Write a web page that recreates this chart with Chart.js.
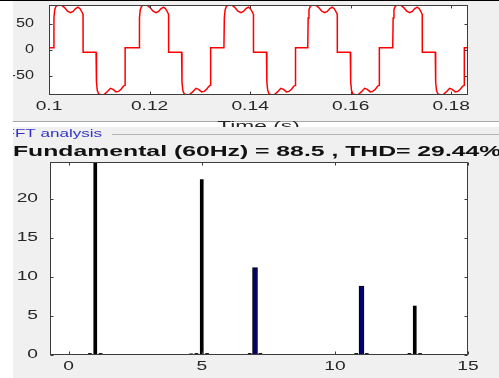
<!DOCTYPE html>
<html>
<head>
<meta charset="utf-8">
<script src="https://cdn.jsdelivr.net/npm/chart.js@4.4.1/dist/chart.umd.min.js"></script>
<style>
    html, body { margin: 0; padding: 0; }
    body { width: 499px; height: 378px; position: relative; overflow: hidden; background: #f0f0f0; }
    canvas { position: absolute; left: 0; top: 0; }
    #left-strip { position: absolute; left: 0; top: 0; width: 13px; height: 378px; background: #fff; z-index: 5; }
    #top-line { position: absolute; left: 0; top: 0; width: 499px; height: 1px; background: #000; z-index: 6; }
    #sep { position: absolute; left: 13px; top: 121px; width: 486px; height: 1px; background: #a8a8a8; }
    #band { position: absolute; left: 13px; top: 122px; width: 486px; height: 5px; background: #fff; }
    #panel-line { position: absolute; left: 112px; top: 134px; width: 387px; height: 1px; background: #b4b4b4; }
</style>
</head>
<body>
<div id="sep"></div>
<div id="band"></div>
<div id="panel-line"></div>
<canvas id="waveChart" width="499" height="378"></canvas>
<canvas id="fftChart" width="499" height="378"></canvas>
<div id="left-strip"></div>
<div id="top-line"></div>
<script>
// ---- waveform (top) ----
const timeRange = [0.1, 0.18333];
const voltRange = [-87, 87];
const timeTicks = [0.1, 0.12, 0.14, 0.16, 0.18];
const timeTickLabels = ['0.1', '0.12', '0.14', '0.16', '0.18'];
const voltTicks = [-50, 0, 50];
const voltTickLabels = ['-50', '0', '50'];

// start of each positive half and each negative half (s)
const posStarts = [0.10090, 0.11791, 0.13479, 0.15146, 0.16836];
const negStarts = [0.10936, 0.12637, 0.14325, 0.15992, 0.17682];
// shape of a positive half: offset (ms) and value
const posShapeMs = [0, 0.08, 0.24, 0.52, 1.0, 1.59, 2.19, 2.79, 3.38, 3.88, 4.38, 4.88, 5.27, 5.67, 5.87];
const posShapeV = [4.4, 62, 78, 85, 87.5, 86.5, 82, 75, 72, 74.5, 80, 83, 80, 73, 69];
// shape of a negative half
const negShapeMs = [0, 0.08, 0.24, 0.52, 1.0, 1.59, 2.19, 2.85, 3.38, 3.98, 4.48, 4.98, 5.43, 5.77];
const negShapeV = [-4.4, -62, -78, -85, -86.5, -86, -81, -74, -76, -81, -80, -76, -70, -68];
// flat steps between halves
const stepAfterPos = -4.4;
const stepAfterNeg = 4.4;

// ---- FFT bars (bottom) ----
const fftTitle = 'Fundamental (60Hz) = 88.5 , THD= 29.44%';
const orderRange = [-0.7, 15];
const magRange = [0, 24.75];
const orderTicks = [0, 5, 10, 15];
const magTicks = [0, 5, 10, 15, 20];
const blackOrders = [1, 5, 13];
const blackMags = [100, 22.5, 6.28];
const blueOrders = [7, 11];
const blueMags = [11.2, 8.85];
const leakOrders = [0.8, 1.2, 4.6, 4.8, 5.2, 6.8, 7.2, 10.8, 11.2, 12.8, 13.2];
const leakMags = [0.2, 0.2, 0.15, 0.2, 0.2, 0.2, 0.2, 0.2, 0.2, 0.2, 0.2];

// build the trace points
const wavePoints = [{ x: timeRange[0], y: stepAfterNeg }];
posStarts.forEach((p, k) => {
    posShapeMs.forEach((ms, i) => wavePoints.push({ x: p + ms / 1000, y: posShapeV[i] }));
    wavePoints.push({ x: p + (posShapeMs[posShapeMs.length - 1] + 0.01) / 1000, y: stepAfterPos });
    const n = negStarts[k];
    negShapeMs.forEach((ms, i) => wavePoints.push({ x: n + ms / 1000, y: negShapeV[i] }));
    wavePoints.push({ x: n + (negShapeMs[negShapeMs.length - 1] + 0.01) / 1000, y: stepAfterNeg });
});
wavePoints.push({ x: timeRange[1], y: stepAfterNeg });

const FONT = '"Liberation Sans", Arial, sans-serif';
const TEXT_COLOR = '#262626';

function drawText(ctx, text, x, y, opt) {
    ctx.save();
    ctx.font = opt.font;
    ctx.fillStyle = opt.color || TEXT_COLOR;
    ctx.textBaseline = opt.baseline || 'middle';
    ctx.textAlign = 'left';
    const sx = opt.sx || 1;
    const w = ctx.measureText(text).width * sx;
    let left = x;
    if (opt.align === 'center') left = x - w / 2;
    else if (opt.align === 'right') left = x - w;
    ctx.translate(left, y);
    ctx.scale(sx, 1);
    ctx.fillText(text, 0, 0);
    ctx.restore();
}

// white axes, box with inside ticks, stretched labels
const framePlugin = {
    id: 'frame',
    beforeDraw(chart) {
        const { ctx, chartArea: a } = chart;
        ctx.save();
        ctx.fillStyle = '#fff';
        ctx.fillRect(a.left, a.top, a.right - a.left, a.bottom - a.top);
        ctx.restore();
    },
    afterDraw(chart, args, opts) {
        const { ctx, chartArea: a, scales } = chart;
        const L = Math.round(a.left) + 0.5, R = Math.round(a.right) - 0.5;
        const T = Math.round(a.top) + 0.5, B = Math.round(a.bottom) - 0.5;
        ctx.save();
        ctx.strokeStyle = '#3c3c3c';
        ctx.lineWidth = 1;
        ctx.strokeRect(L, T, R - L, B - T);
        ctx.beginPath();
        scales.x.ticks.forEach(t => {
            const px = Math.round(scales.x.getPixelForValue(t.value)) + 0.5;
            ctx.moveTo(px, T); ctx.lineTo(px, T + 3);
            ctx.moveTo(px, B); ctx.lineTo(px, B - 3);
        });
        scales.y.ticks.forEach(t => {
            const py = Math.round(scales.y.getPixelForValue(t.value)) + 0.5;
            ctx.moveTo(L, py); ctx.lineTo(L + 3, py);
            ctx.moveTo(R, py); ctx.lineTo(R - 3, py);
        });
        ctx.stroke();
        ctx.restore();

        const font = '12px ' + FONT;
        scales.x.ticks.forEach((t, i) => {
            drawText(ctx, opts.xLabels[i], scales.x.getPixelForValue(t.value), a.bottom + opts.xLabelGap,
                { font, sx: opts.sx, align: 'center' });
        });
        scales.y.ticks.forEach((t, i) => {
            drawText(ctx, opts.yLabels[i], a.left - opts.yLabelGap, scales.y.getPixelForValue(t.value),
                { font, sx: opts.ySx || opts.sx, align: 'right' });
        });
        if (opts.extra) opts.extra(chart);
    }
};

new Chart(document.getElementById('waveChart'), {
    type: 'line',
    data: {
        datasets: [{
            data: wavePoints,
            borderColor: '#ff0000',
            borderWidth: 1.5,
            pointRadius: 0,
            tension: 0
        }]
    },
    options: {
        responsive: false,
        animation: false,
        layout: { padding: { left: 49, right: 31, top: 5, bottom: 283 } },
        plugins: {
            legend: { display: false },
            tooltip: { enabled: false },
            frame: {
                xLabels: timeTickLabels, yLabels: voltTickLabels,
                xLabelGap: 12, yLabelGap: 15, sx: 1.6, ySx: 1.35,
                extra(chart) {
                    const { ctx, chartArea: a } = chart;
                    ctx.save();
                    ctx.beginPath();
                    ctx.rect(0, 0, 499, 127);
                    ctx.clip();
                    drawText(ctx, 'Time (s)', (a.left + a.right) / 2, 130,
                        { font: '13px ' + FONT, sx: 1.75, align: 'center', baseline: 'alphabetic' });
                    ctx.restore();
                }
            }
        },
        scales: {
            x: {
                type: 'linear', min: timeRange[0], max: timeRange[1],
                afterBuildTicks: s => { s.ticks = timeTicks.map(v => ({ value: v })); },
                afterFit: s => { s.height = 0; },
                grid: { display: false }, border: { display: false }, ticks: { display: false }
            },
            y: {
                min: voltRange[0], max: voltRange[1],
                afterBuildTicks: s => { s.ticks = voltTicks.map(v => ({ value: v })); },
                afterFit: s => { s.width = 0; },
                grid: { display: false }, border: { display: false }, ticks: { display: false }
            }
        }
    },
    plugins: [framePlugin]
});

const toXY = (xs, ys) => xs.map((x, i) => ({ x, y: ys[i] }));

new Chart(document.getElementById('fftChart'), {
    type: 'bar',
    data: {
        datasets: [
            { data: toXY(blackOrders, blackMags), backgroundColor: '#000', barThickness: 3, grouped: false },
            { data: toXY(blueOrders, blueMags), backgroundColor: '#00006e', borderColor: '#000', borderWidth: 1, barThickness: 5, grouped: false },
            { data: toXY(leakOrders, leakMags), backgroundColor: '#000', barThickness: 3, grouped: false }
        ]
    },
    options: {
        responsive: false,
        animation: false,
        layout: { padding: { left: 50, right: 31, top: 162, bottom: 23 } },
        plugins: {
            legend: { display: false },
            tooltip: { enabled: false },
            frame: {
                xLabels: orderTicks.map(String), yLabels: magTicks.map(String),
                xLabelGap: 12, yLabelGap: 12, sx: 1.6,
                extra(chart) {
                    const ctx = chart.ctx;
                    drawText(ctx, 'FFT analysis', 4.5, 134,
                        { font: '11px ' + FONT, sx: 1.55, color: '#3232c8' });
                    drawText(ctx, fftTitle, 13, 152,
                        { font: 'bold 15px ' + FONT, sx: 1.65, color: '#111' });
                }
            }
        },
        scales: {
            x: {
                type: 'linear', min: orderRange[0], max: orderRange[1], offset: false,
                afterBuildTicks: s => { s.ticks = orderTicks.map(v => ({ value: v })); },
                afterFit: s => { s.height = 0; },
                grid: { display: false }, border: { display: false }, ticks: { display: false }
            },
            y: {
                min: magRange[0], max: magRange[1],
                afterBuildTicks: s => { s.ticks = magTicks.map(v => ({ value: v })); },
                afterFit: s => { s.width = 0; },
                grid: { display: false }, border: { display: false }, ticks: { display: false }
            }
        }
    },
    plugins: [framePlugin]
});
</script>
</body>
</html>
